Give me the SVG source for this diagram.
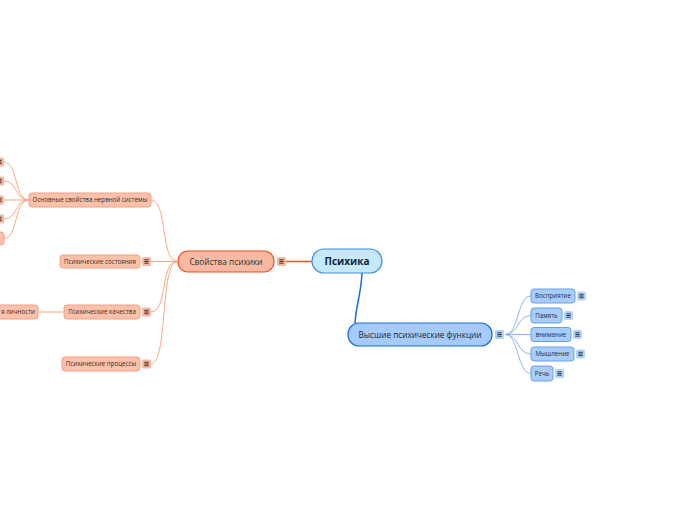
<svg xmlns="http://www.w3.org/2000/svg" xmlns:xlink="http://www.w3.org/1999/xlink" width="696" height="520" viewBox="0 0 696 520">
<style>
text{font-family:"Open Sans","Noto Sans","DejaVu Sans",sans-serif;}
.root{fill:#c7e8fb;stroke:#3b8fdc;stroke-width:1.2}
.bmain{fill:#a6cbfa;stroke:#1d6cd2;stroke-width:1.2}
.bsub{fill:#a9cdfb;stroke:#6b9ee9;stroke-width:1}
.omain{fill:#f8b9a2;stroke:#e84e1d;stroke-width:1.2}
.osub{fill:#fbc1ab;stroke:#f4a084;stroke-width:1}
.t1{font-size:10px;font-weight:bold;fill:#10233a}
.t2{font-size:8.2px;fill:#142a3a}
.to2{font-size:8.3px;fill:#1d3a30}
.t3{font-size:6.2px;fill:#1f2e3d}
.to3{font-size:6.2px;fill:#3a2a22}
.cb{fill:none;stroke:#8ab4f0;stroke-width:1}
.co{fill:none;stroke:#f7a88c;stroke-width:1}
</style>
<defs>
<g id="io"><rect x="0" y="0" width="9" height="9" rx="1.5" fill="#f8b7a0"/><path d="M2.3 2.8h4.4M2.3 4.5h4.4M2.3 6.2h4.4" stroke="#3a2a22" stroke-width="0.9"/></g>
<g id="ib"><rect x="0" y="0" width="9" height="9" rx="1.5" fill="#b3d3fb"/><path d="M2.3 2.8h4.4M2.3 4.5h4.4M2.3 6.2h4.4" stroke="#1f2e3d" stroke-width="0.9"/></g>
</defs>
<g id="connectors">
<path d="M286 261.5H312" fill="none" stroke="#e84e1d" stroke-width="1.5"/>
<path d="M362 273C361 295 356 305 355 323" fill="none" stroke="#1d6cd2" stroke-width="1.5"/>
<path class="cb" d="M505 334.5C519 334.5 517 296 531 296"/>
<path class="cb" d="M505 334.5C519 334.5 517 315.5 531 315.5"/>
<path class="cb" d="M505 334.5H531"/>
<path class="cb" d="M505 334.5C519 334.5 517 354 531 354"/>
<path class="cb" d="M505 334.5C519 334.5 517 373.5 531 373.5"/>
<path class="co" d="M151 200C168 200 160 261 177 261"/>
<path class="co" d="M151 261.5H177"/>
<path class="co" d="M151 312C168 312 160 261.5 177 261.5"/>
<path class="co" d="M151 364C168 364 160 262 177 262"/>
<path class="co" d="M29 200C14 200 18 162 4 162"/>
<path class="co" d="M29 200C14 200 18 181 4 181"/>
<path class="co" d="M29 200H4"/>
<path class="co" d="M29 200C14 200 18 219 4 219"/>
<path class="co" d="M29 200C14 200 18 238.5 4 238.5"/>
<path class="co" d="M64 312H38"/>
</g>
<g id="n-root"><rect class="root" x="312" y="249" width="70" height="24" rx="12"/><text class="t1" x="347" y="264.5" text-anchor="middle">Психика</text></g>
<g id="n-svojstva"><rect class="omain" x="178" y="251" width="96" height="21" rx="10"/><text class="to2" x="226" y="264.5" text-anchor="middle">Свойства психики</text><use xlink:href="#io" x="277" y="257"/></g>
<g id="n-vysshie"><rect class="bmain" x="348" y="323" width="144" height="23" rx="11"/><text class="t2" x="420" y="337.5" text-anchor="middle">Высшие психические функции</text><use xlink:href="#ib" x="495" y="330"/></g>
<g id="n-vospr"><rect class="bsub" x="531" y="289" width="44" height="14" rx="3"/><text class="t3" x="553" y="298.3" text-anchor="middle">Восприятие</text><use xlink:href="#ib" x="577" y="291.5"/></g>
<g id="n-pamyat"><rect class="bsub" x="531" y="308" width="31" height="15" rx="3"/><text class="t3" x="546.5" y="318" text-anchor="middle">Память</text><use xlink:href="#ib" x="564" y="311"/></g>
<g id="n-vnim"><rect class="bsub" x="531" y="327.5" width="40" height="14" rx="3"/><text class="t3" x="551" y="336.8" text-anchor="middle">внимание</text><use xlink:href="#ib" x="573" y="330"/></g>
<g id="n-mysh"><rect class="bsub" x="531" y="347" width="43" height="14" rx="3"/><text class="t3" x="552.5" y="356.3" text-anchor="middle">Мышление</text><use xlink:href="#ib" x="576" y="349.5"/></g>
<g id="n-rech"><rect class="bsub" x="531" y="366" width="22" height="15" rx="3"/><text class="t3" x="542" y="376" text-anchor="middle">Речь</text><use xlink:href="#ib" x="555" y="369"/></g>
<g id="n-osnov"><rect class="osub" x="29" y="193" width="122" height="14" rx="3"/><text class="to3" x="90" y="202.3" text-anchor="middle">Основные свойства нервной системы</text></g>
<g id="n-sost"><rect class="osub" x="60" y="255" width="80" height="13" rx="3"/><text class="to3" x="100" y="263.8" text-anchor="middle">Психические состояния</text><use xlink:href="#io" x="142" y="257"/></g>
<g id="n-kach"><rect class="osub" x="64" y="305" width="76" height="14" rx="3"/><text class="to3" x="102" y="314.3" text-anchor="middle">Психические качества</text><use xlink:href="#io" x="142" y="307.5"/></g>
<g id="n-proc"><rect class="osub" x="62" y="357" width="78" height="14" rx="3"/><text class="to3" x="101" y="366.3" text-anchor="middle">Психические процессы</text><use xlink:href="#io" x="142" y="359.5"/></g>
<g id="n-lichn"><rect class="osub" x="-60" y="305" width="98" height="14" rx="3"/><text class="to3" x="35" y="314.3" text-anchor="end">я личности</text></g>
<g id="n-os1"><use xlink:href="#io" x="-5" y="157.5"/></g>
<g id="n-os2"><use xlink:href="#io" x="-5" y="176.5"/></g>
<g id="n-os3"><use xlink:href="#io" x="-5" y="195.5"/></g>
<g id="n-os4"><use xlink:href="#io" x="-5" y="214.5"/></g>
<g id="n-os5"><rect class="osub" x="-40" y="232" width="44" height="13" rx="3"/></g>
</svg>
